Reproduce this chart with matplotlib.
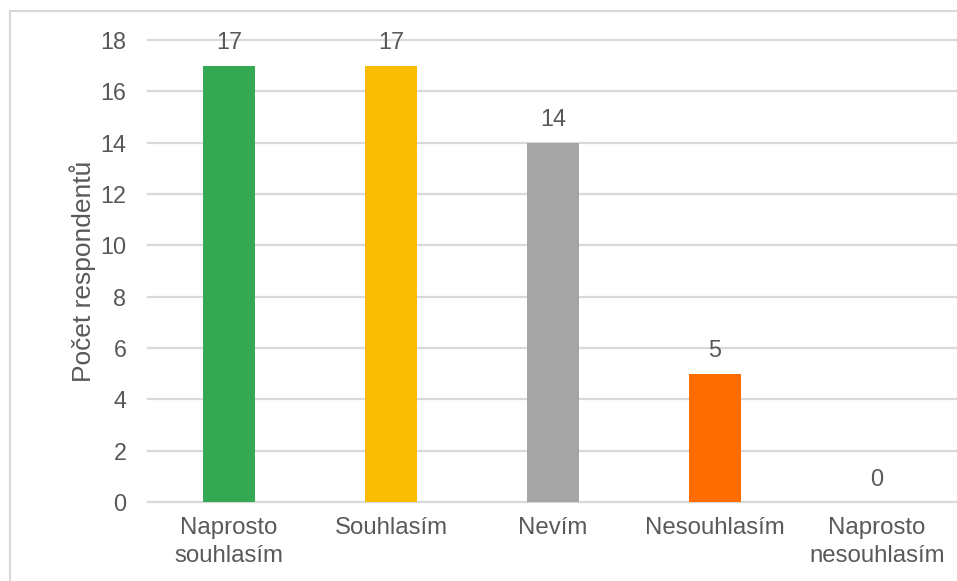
import matplotlib
matplotlib.use("Agg")
import matplotlib.pyplot as plt
from matplotlib.patches import Rectangle

categories = ["Naprosto\nsouhlasím", "Souhlasím", "Nevím", "Nesouhlasím", "Naprosto\nnesouhlasím"]
values = [17, 17, 14, 5, 0]
colors = ["#34A853", "#FBBC04", "#A5A5A5", "#FF6D01", "#5B9BD5"]
yticks = [0, 2, 4, 6, 8, 10, 12, 14, 16, 18]
ylabel = "Počet respondentů"

plt.rcParams['font.family'] = ['Liberation Sans', 'DejaVu Sans']
text_color = "#595959"
grid_color = "#D9D9D9"

W, H = 957, 581
fig = plt.figure(figsize=(W / 100, H / 100), dpi=100)
fig.patch.set_facecolor("white")

ax = fig.add_axes([148 / W, (H - 502) / H, 810 / W, 462 / H])
x = list(range(len(categories)))
bars = ax.bar(x, values, width=0.315, color=colors, zorder=3)

ax.set_xlim(-0.5, len(categories) - 0.5)
ax.set_ylim(0, 18)
ax.set_yticks(yticks)
ax.set_yticklabels([str(t) for t in yticks])
ax.set_xticks(x)
ax.set_xticklabels(categories, linespacing=1.32, fontsize=17.3)

for s in ax.spines.values():
    s.set_visible(False)
ax.yaxis.grid(True, color=grid_color, linewidth=1.6, zorder=0)
for gl in ax.get_ygridlines():
    gl.set_clip_on(False)
ax.tick_params(axis='both', length=0, colors=text_color)
ax.tick_params(axis='y', pad=15.5, labelsize=16.8)
ax.tick_params(axis='x', pad=11)

ax.set_ylabel(ylabel, fontsize=19, color=text_color, labelpad=3)

for xi, v in zip(x, values):
    ax.annotate(str(v), (xi, v), xytext=(0, 16.5), textcoords='offset points',
                ha='center', va='center', fontsize=16.8, color=text_color)

fig.patches.append(Rectangle((10 / W, -0.1), 1.2, (H - 11) / H + 0.1,
                             transform=fig.transFigure, fill=False,
                             edgecolor=grid_color, linewidth=1.5))

fig.savefig("out.png", dpi=100)
